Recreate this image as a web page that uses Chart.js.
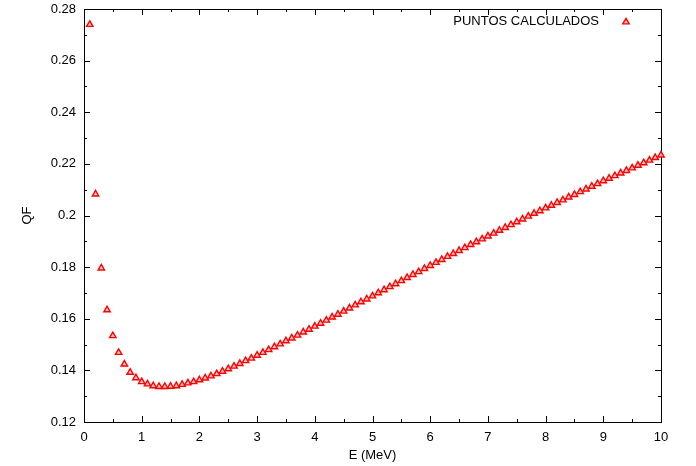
<!DOCTYPE html>
<html>
<head>
<meta charset="utf-8">
<script src="https://cdn.jsdelivr.net/npm/chart.js@4.4.1/dist/chart.umd.min.js"></script>
<style>
  body { margin: 0; background: #fff; }
  canvas { display: block; }
</style>
</head>
<body>
<canvas id="qfChart" width="696" height="466"></canvas>
<script>
// energy (MeV) of each calculated point
const energies = [
  0.1, 0.2, 0.3, 0.4, 0.5, 0.6, 0.7, 0.8, 0.9, 1.0,
  1.1, 1.2, 1.3, 1.4, 1.5, 1.6, 1.7, 1.8, 1.9, 2.0,
  2.1, 2.2, 2.3, 2.4, 2.5, 2.6, 2.7, 2.8, 2.9, 3.0,
  3.1, 3.2, 3.3, 3.4, 3.5, 3.6, 3.7, 3.8, 3.9, 4.0,
  4.1, 4.2, 4.3, 4.4, 4.5, 4.6, 4.7, 4.8, 4.9, 5.0,
  5.1, 5.2, 5.3, 5.4, 5.5, 5.6, 5.7, 5.8, 5.9, 6.0,
  6.1, 6.2, 6.3, 6.4, 6.5, 6.6, 6.7, 6.8, 6.9, 7.0,
  7.1, 7.2, 7.3, 7.4, 7.5, 7.6, 7.7, 7.8, 7.9, 8.0,
  8.1, 8.2, 8.3, 8.4, 8.5, 8.6, 8.7, 8.8, 8.9, 9.0,
  9.1, 9.2, 9.3, 9.4, 9.5, 9.6, 9.7, 9.8, 9.9, 10.0
];

// QF
const qfValues = [
  0.2740, 0.2083, 0.1796, 0.1634, 0.1534, 0.1469, 0.1424, 0.1392, 0.1371, 0.1356,
  0.1347, 0.1340, 0.1337, 0.1337, 0.1338, 0.1340, 0.1345, 0.1351, 0.1356, 0.1363,
  0.1370, 0.1378, 0.1387, 0.1396, 0.1406, 0.1416, 0.1426, 0.1437, 0.1447, 0.1458,
  0.1469, 0.1480, 0.1491, 0.1502, 0.1514, 0.1525, 0.1536, 0.1548, 0.1559, 0.1571,
  0.1582, 0.1594, 0.1606, 0.1617, 0.1629, 0.1641, 0.1653, 0.1665, 0.1676, 0.1688,
  0.1700, 0.1712, 0.1724, 0.1735, 0.1747, 0.1759, 0.1771, 0.1782, 0.1794, 0.1806,
  0.1818, 0.1829, 0.1841, 0.1852, 0.1864, 0.1875, 0.1887, 0.1898, 0.1909, 0.1920,
  0.1931, 0.1942, 0.1953, 0.1964, 0.1975, 0.1986, 0.1997, 0.2008, 0.2018, 0.2029,
  0.2039, 0.2050, 0.2060, 0.2071, 0.2081, 0.2092, 0.2102, 0.2113, 0.2123, 0.2134,
  0.2144, 0.2154, 0.2164, 0.2174, 0.2184, 0.2194, 0.2204, 0.2214, 0.2224, 0.2234
];

const seriesLabel = 'PUNTOS CALCULADOS';
const xTitle = 'E (MeV)';
const yTitle = 'QF';

const fontFamily = '"Liberation Sans", Arial, Helvetica, sans-serif';
const red = '#ff0000';
const pink = 'rgba(255,190,190,0.9)';
const markRadius = 3.7;
const markLine = 1.4;

function triangle(ctx, x, y, r) {
  ctx.beginPath();
  ctx.moveTo(x, y - r);
  ctx.lineTo(x + r * Math.sin(2 * Math.PI / 3), y + r / 2);
  ctx.lineTo(x - r * Math.sin(2 * Math.PI / 3), y + r / 2);
  ctx.closePath();
  ctx.fillStyle = pink;
  ctx.fill();
  ctx.strokeStyle = red;
  ctx.lineWidth = markLine;
  ctx.stroke();
}

// gnuplot style frame with inward ticks on all four sides + legend inside
const gnuplotFrame = {
  id: 'gnuplotFrame',
  beforeDatasetsDraw(chart) {
    const {ctx, chartArea: a, scales: {x, y}} = chart;
    ctx.save();
    ctx.strokeStyle = '#000';
    ctx.lineWidth = 1;
    ctx.strokeRect(Math.round(a.left) + 0.5, Math.round(a.top) + 0.5,
      Math.round(a.right - a.left), Math.round(a.bottom - a.top));

    ctx.beginPath();
    // x ticks every 0.5, major every 1
    for (let i = 0; i <= 20; i++) {
      const v = x.min + i * 0.5;
      const px = Math.round(x.getPixelForValue(v)) + 0.5;
      const len = i % 2 === 0 ? 6 : 3;
      ctx.moveTo(px, a.bottom);
      ctx.lineTo(px, a.bottom - len);
      ctx.moveTo(px, a.top);
      ctx.lineTo(px, a.top + len);
    }
    // y ticks every 0.01, major every 0.02
    for (let i = 0; i <= 16; i++) {
      const v = y.min + i * 0.01;
      const py = Math.round(y.getPixelForValue(v)) + 0.5;
      const len = i % 2 === 0 ? 6 : 3;
      ctx.moveTo(a.left, py);
      ctx.lineTo(a.left + len, py);
      ctx.moveTo(a.right, py);
      ctx.lineTo(a.right - len, py);
    }
    ctx.stroke();
    ctx.restore();
  },
  afterDatasetsDraw(chart) {
    const {ctx, chartArea: a} = chart;
    ctx.save();
    ctx.font = '13px ' + fontFamily;
    ctx.fillStyle = '#000';
    ctx.textAlign = 'right';
    ctx.textBaseline = 'middle';
    ctx.fillText(chart.data.datasets[0].label, a.right - 62, a.top + 12);
    triangle(ctx, a.right - 35, a.top + 13, markRadius);
    ctx.restore();
  }
};

new Chart(document.getElementById('qfChart'), {
  type: 'scatter',
  data: {
    datasets: [{
      label: seriesLabel,
      data: energies.map((e, i) => ({x: e, y: qfValues[i]})),
      pointStyle: 'triangle',
      pointRadius: markRadius,
      pointHoverRadius: markRadius,
      pointBorderWidth: markLine,
      borderColor: red,
      backgroundColor: pink,
      clip: false
    }]
  },
  options: {
    responsive: false,
    animation: false,
    layout: { padding: { top: 9, right: 35, left: 0, bottom: 0 } },
    plugins: {
      legend: { display: false },
      tooltip: { enabled: false }
    },
    scales: {
      x: {
        type: 'linear',
        min: 0,
        max: 10,
        afterFit: s => { s.height = 44; s.paddingLeft = 0; s.paddingRight = 0; },
        grid: { display: false, drawTicks: false },
        border: { display: false },
        ticks: {
          stepSize: 1,
          padding: 8,
          color: '#000',
          font: { family: fontFamily, size: 13 },
          maxRotation: 0
        },
        title: {
          display: true,
          text: xTitle,
          color: '#000',
          font: { family: fontFamily, size: 13 },
          padding: { top: 0, bottom: 3 }
        }
      },
      y: {
        type: 'linear',
        min: 0.12,
        max: 0.28,
        afterFit: s => { s.width = 84; s.paddingTop = 0; s.paddingBottom = 0; },
        grid: { display: false, drawTicks: false },
        border: { display: false },
        ticks: {
          stepSize: 0.02,
          padding: 8,
          color: '#000',
          font: { family: fontFamily, size: 13 },
          callback: v => String(+v.toFixed(2))
        },
        title: {
          display: true,
          text: yTitle,
          color: '#000',
          font: { family: fontFamily, size: 13 },
          padding: { top: 20, bottom: 0 }
        }
      }
    }
  },
  plugins: [gnuplotFrame]
});
</script>
</body>
</html>
